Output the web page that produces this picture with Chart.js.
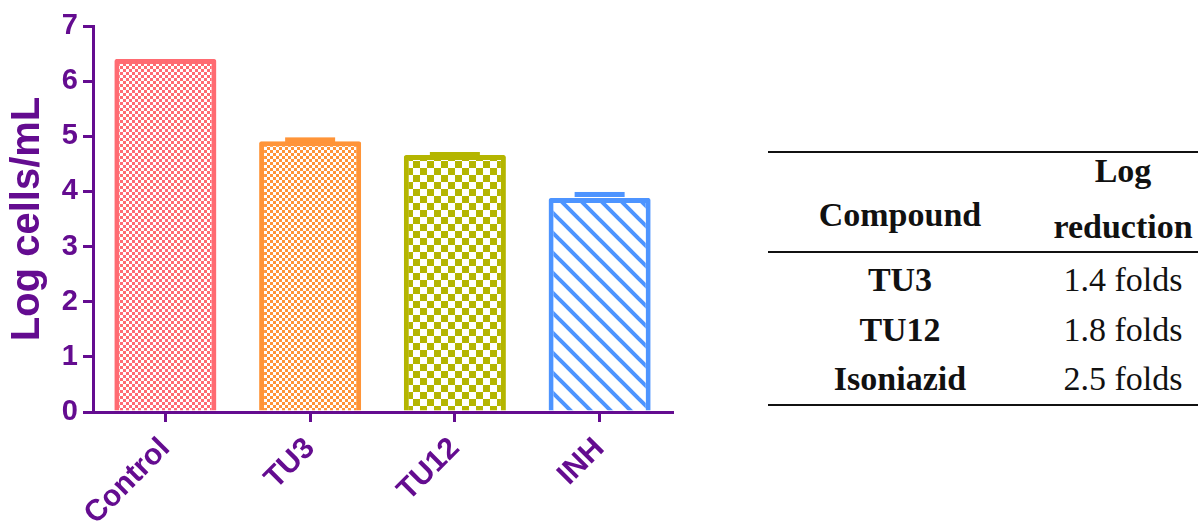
<!DOCTYPE html>
<html lang="en">
<head>
  <meta charset="UTF-8">
  <title>Log cells/mL</title>
  <script src="https://cdn.jsdelivr.net/npm/chart.js"></script>
  <style>
    body { margin: 0; background: #fff; width: 1198px; height: 527px; overflow: hidden; position: relative; }
    #chart { position: absolute; left: 0; top: 0; }
    .rule { position: absolute; left: 768px; width: 430px; height: 2px; background: #111; }
    .cell { position: absolute; font-family: "Liberation Serif", "Times New Roman", serif; font-size: 34px; line-height: 34px; color: #111; text-align: center; white-space: nowrap; }
    .c1 { left: 800px; width: 200px; font-weight: bold; }
    .c2 { left: 1030px; width: 186px; }
    .b { font-weight: bold; }
  </style>
</head>
<body>
  <canvas id="chart" width="690" height="527"></canvas>
  <div id="table"></div>
  <script>
    // chart data
    const categories = ['Control', 'TU3', 'TU12', 'INH'];
    const logCells = [6.40, 4.91, 4.66, 3.88];
    const errors = [0, 0.07, 0.055, 0.11];
    const yMin = 0, yMax = 7, yStep = 1;

    // table data
    const compounds = ['TU3', 'TU12', 'Isoniazid'];
    const reductions = ['1.4 folds', '1.8 folds', '2.5 folds'];

    const purple = '#640c90';
    const colors = ['#ff6b72', '#ff9438', '#b4b500', '#4d94ff'];

    function checker(color, size) {
      const c = document.createElement('canvas');
      c.width = size * 2; c.height = size * 2;
      const g = c.getContext('2d');
      g.fillStyle = '#fff';
      g.fillRect(0, 0, size * 2, size * 2);
      g.fillStyle = color;
      g.fillRect(0, 0, size, size);
      g.fillRect(size, size, size, size);
      return g.createPattern(c, 'repeat');
    }

    function stripes(color, period, width) {
      const c = document.createElement('canvas');
      c.width = period; c.height = period;
      const g = c.getContext('2d');
      g.fillStyle = '#fff';
      g.fillRect(0, 0, period, period);
      g.strokeStyle = color;
      g.lineWidth = width;
      for (const off of [-period, 0, period]) {
        g.beginPath();
        g.moveTo(off - 2, -2);
        g.lineTo(off + period + 2, period + 2);
        g.stroke();
      }
      return g.createPattern(c, 'repeat');
    }

    const ctx = document.getElementById('chart').getContext('2d');
    const fills = [
      checker(colors[0], 3),
      checker(colors[1], 3),
      checker(colors[2], 7),
      stripes(colors[3], 20, 4)
    ];

    // error bar caps drawn through the y scale
    const errorBars = {
      id: 'errorBars',
      afterDatasetsDraw(chart) {
        const meta = chart.getDatasetMeta(0);
        const y = chart.scales.y;
        const g = chart.ctx;
        g.save();
        meta.data.forEach((bar, i) => {
          if (!errors[i]) return;
          const top = y.getPixelForValue(logCells[i] + errors[i]);
          g.fillStyle = colors[i];
          g.fillRect(bar.x - 25, top, 50, 5);
        });
        g.restore();
      }
    };

    new Chart(ctx, {
      type: 'bar',
      data: {
        labels: categories,
        datasets: [{
          data: logCells,
          backgroundColor: fills,
          borderColor: colors,
          borderWidth: 5,
          borderSkipped: 'bottom',
          borderRadius: 2,
          barPercentage: 0.705,
          categoryPercentage: 1
        }]
      },
      options: {
        responsive: false,
        animation: false,
        layout: { padding: { top: 26, right: 18, left: 0, bottom: 0 } },
        plugins: { legend: { display: false }, tooltip: { enabled: false } },
        scales: {
          x: {
            grid: { offset: false, drawOnChartArea: false, color: purple, lineWidth: 3, tickLength: 10 },
            border: { color: purple, width: 3, z: 1 },
            ticks: {
              color: purple,
              font: { family: 'Liberation Sans', size: 30, weight: 'bold' },
              minRotation: 45, maxRotation: 45, autoSkip: false, padding: 9
            },
            afterFit(scale) { scale.height = 115; }
          },
          y: {
            min: yMin, max: yMax,
            grid: { drawOnChartArea: false, color: purple, lineWidth: 3, tickLength: 10 },
            border: { color: purple, width: 3 },
            ticks: {
              stepSize: yStep, color: purple, padding: 5,
              font: { family: 'Liberation Sans', size: 29, weight: 'bold' }
            },
            title: {
              display: true, text: 'Log cells/mL', color: purple,
              font: { family: 'Liberation Sans', size: 40, weight: 'bold' },
              padding: { top: 4, bottom: 0 }
            },
            afterFit(scale) { scale.width = 93; }
          }
        }
      },
      plugins: [errorBars]
    });

    // table on the right
    const table = document.getElementById('table');
    function add(cls, text, top) {
      const d = document.createElement('div');
      d.className = cls;
      d.textContent = text;
      d.style.top = top + 'px';
      table.appendChild(d);
    }
    [151, 251, 404].forEach(t => add('rule', '', t));
    add('cell c1', 'Compound', 198);
    add('cell c2 b', 'Log', 154);
    add('cell c2 b', 'reduction', 210);
    compounds.forEach((name, i) => {
      add('cell c1', name, 263 + i * 49.5);
      add('cell c2', reductions[i], 263 + i * 49.5);
    });
  </script>
</body>
</html>
